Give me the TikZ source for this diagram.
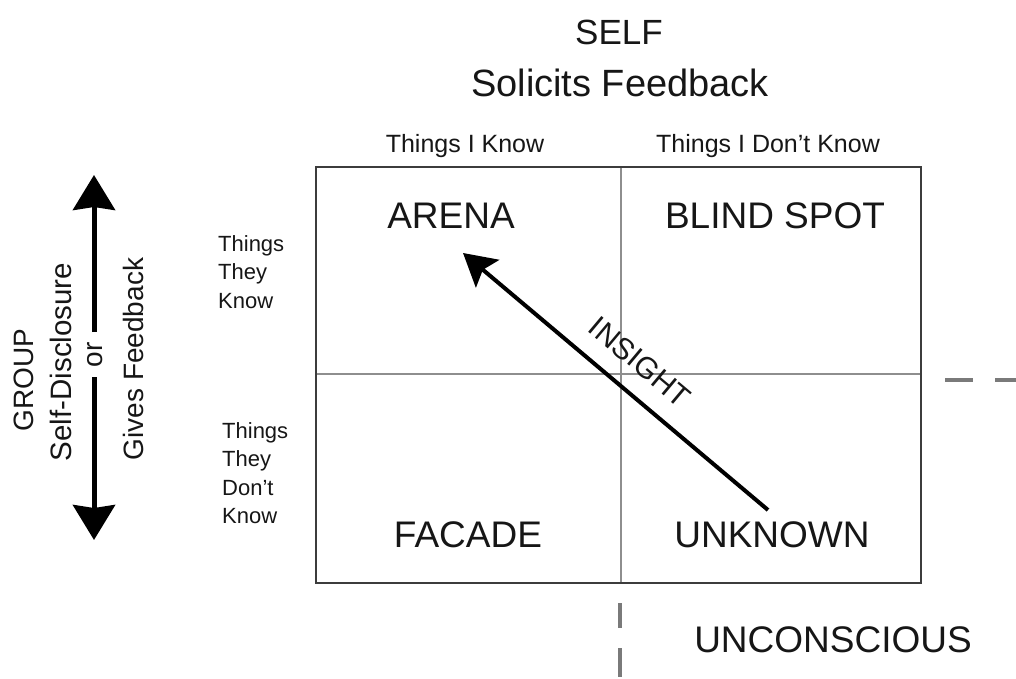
\documentclass[tikz,border=0pt]{standalone}
\usepackage{fontspec}
\setmainfont{Liberation Sans}
\usetikzlibrary{arrows.meta}
\definecolor{txt}{HTML}{161616}
\definecolor{outerc}{HTML}{3C3C3C}
\definecolor{innerc}{HTML}{8E8E8E}
\definecolor{dashc}{HTML}{7A7A7A}
\begin{document}
\begin{tikzpicture}[x=1pt,y=-1pt,
  bigtext/.style={font=\fontsize{37}{44}\selectfont, inner sep=0pt, anchor=base, text=txt},
  headtext/.style={font=\fontsize{25}{30}\selectfont, inner sep=0pt, anchor=base, text=txt},
  sidetext/.style={font=\fontsize{22}{28.5}\selectfont, inner sep=0pt, align=left, anchor=north west, text=txt},
  verttext/.style={font=\fontsize{28}{32}\selectfont, inner sep=0pt, rotate=90, anchor=center, text=txt},
  gridouter/.style={draw=outerc, line width=2.5pt},
  gridinner/.style={draw=innerc, line width=2.5pt},
  dashline/.style={draw=dashc, line width=4pt},
  bigarrow/.style={draw=black, line width=5pt, -{Stealth[length=35pt,width=42pt,inset=3pt]}},
  insightarrow/.style={draw=black, line width=4pt, -{Stealth[length=32pt,width=36pt,inset=6pt]}},
]
\useasboundingbox (0,0) rectangle (1016,679);

% grid
\coordinate (tl) at (316,167);
\coordinate (br) at (921,583);
\coordinate (mt) at (621,167);
\coordinate (mb) at (621,583);
\coordinate (ml) at (316,374);
\coordinate (mr) at (921,374);
\draw[gridinner] (mt) -- (mb);
\draw[gridinner] (ml) -- (mr);
\draw[gridouter] (tl) rectangle (br);

% titles
\node[bigtext, font=\fontsize{35}{40}\selectfont] (self) at (619,45) {SELF};
\node[bigtext, font=\fontsize{38}{44}\selectfont] (solicits) at (620,97) {Solicits Feedback};
\node[headtext] (iknow) at (465,153) {Things I Know};
\node[headtext] (idont) at (768,153) {Things I Don't Know};

% row labels
\node[sidetext] (theyknow) at (218,235) {Things\\They\\Know};
\node[sidetext] (theydont) at (222,422) {Things\\They\\Don't\\Know};

% quadrant labels
\node[bigtext] (arena) at (451,228) {ARENA};
\node[bigtext] (blind) at (775,228) {BLIND SPOT};
\node[bigtext] (facade) at (468,547) {FACADE};
\node[bigtext] (unknown) at (772,547) {UNKNOWN};
\node[bigtext] (uncon) at (833,652) {UNCONSCIOUS};

% left side
\node[verttext] (group) at (24,380) {GROUP};
\node[verttext, font=\fontsize{29.5}{32}\selectfont] (selfdis) at (61,362) {Self-Disclosure};
\node[verttext] (ornode) at (95,355) {or};
\node[verttext] (gives) at (133,359) {Gives Feedback};
\coordinate (upA) at (94,332);
\coordinate (upB) at (94,175);
\coordinate (dnA) at (94,377);
\coordinate (dnB) at (94,540);
\draw[bigarrow] (upA) -- (upB);
\draw[bigarrow] (dnA) -- (dnB);

% insight
\coordinate (insS) at (768,510);
\coordinate (insE) at (463,253);
\draw[insightarrow] (insS) -- (insE);
\node[font=\fontsize{30}{34}\selectfont, inner sep=0pt, rotate=-40, text=txt] (insight) at (640,362) {INSIGHT};

% dashed lines
\coordinate (h1) at (945,380);
\coordinate (h2) at (973,380);
\coordinate (h3) at (995,380);
\coordinate (h4) at (1016,380);
\draw[dashline] (h1) -- (h2);
\draw[dashline] (h3) -- (h4);
\coordinate (v1) at (620,603);
\coordinate (v2) at (620,628);
\coordinate (v3) at (620,648);
\coordinate (v4) at (620,677);
\draw[dashline] (v1) -- (v2);
\draw[dashline] (v3) -- (v4);
\end{tikzpicture}
\end{document}
